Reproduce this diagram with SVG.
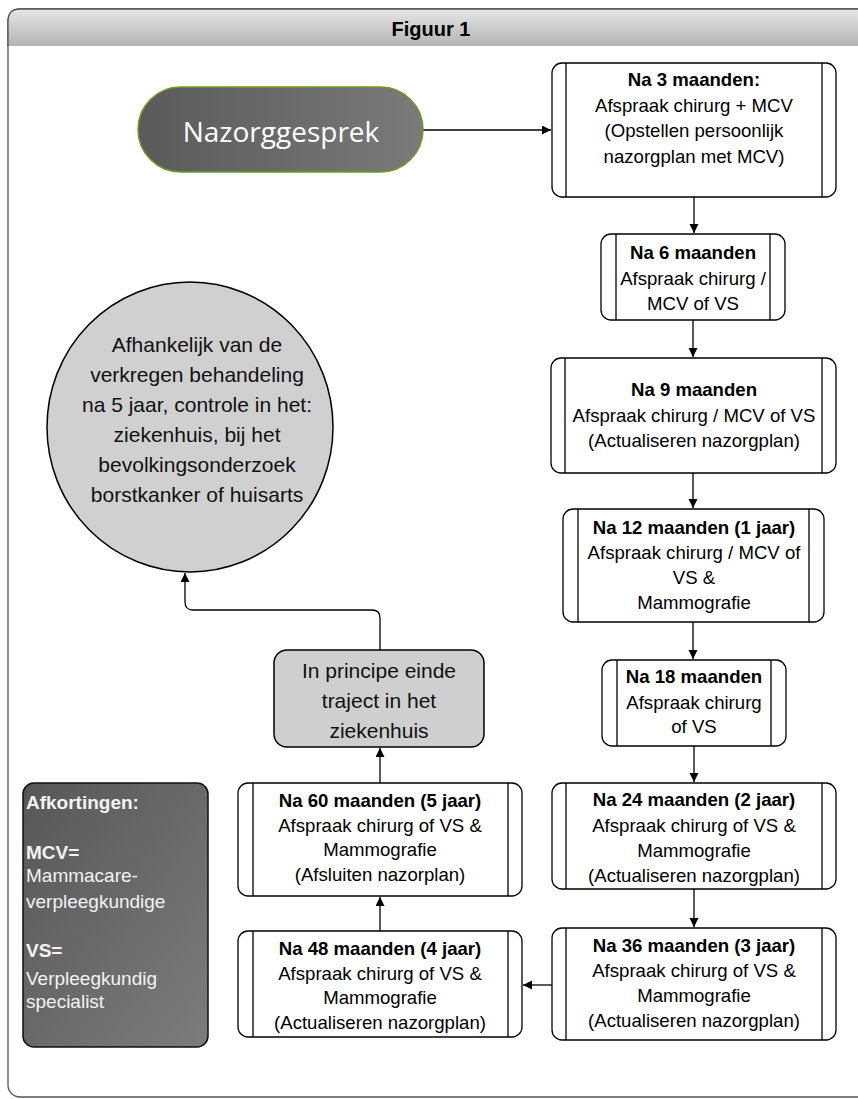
<svg xmlns="http://www.w3.org/2000/svg" width="858" height="1099" viewBox="0 0 858 1099">
<defs>
<linearGradient id="hdr" x1="0" y1="0" x2="0" y2="1"><stop offset="0" stop-color="#e6e6e6"/><stop offset="1" stop-color="#b4b4b4"/></linearGradient>
<linearGradient id="dark" x1="0" y1="0" x2="1" y2="1"><stop offset="0" stop-color="#575757"/><stop offset="1" stop-color="#7c7c7c"/></linearGradient>
<linearGradient id="pill" x1="0" y1="0" x2="1" y2="0"><stop offset="0" stop-color="#5a5a5a"/><stop offset="1" stop-color="#7a7a7a"/></linearGradient>
<marker id="ah" markerUnits="userSpaceOnUse" markerWidth="10" markerHeight="10" refX="9" refY="4.5" orient="auto"><path d="M0,0 L9,4.5 L0,9 z" fill="#000"/></marker>
<style>
.box{fill:#fff;stroke:#000;stroke-width:1.3}
.il{stroke:#000;stroke-width:1.3}
.t{font-family:"Liberation Sans",Arial,sans-serif;font-size:18.6px;text-anchor:middle;fill:#000}
.b{font-weight:bold}
.g{font-family:"Liberation Sans",Arial,sans-serif;font-size:21px;text-anchor:middle;fill:#111}
.lg{font-family:"Liberation Sans",Arial,sans-serif;font-size:19px;fill:#f2f2f2}
.c{fill:none;stroke:#000;stroke-width:1.3}
</style>
</defs>
<g id="frame">
<rect x="8" y="9" width="870" height="1088" rx="12" fill="#fff" stroke="#555" stroke-width="1.3"/>
<path d="M8,46 L8,21 Q8,9 20,9 L858,9 L858,46 Z" fill="url(#hdr)"/>
<path d="M8,46 L8,21 Q8,9 20,9 L858,9" fill="none" stroke="#555" stroke-width="1.3"/>
<text x="431" y="36" font-family="Liberation Sans,Arial,sans-serif" font-size="20" font-weight="bold" text-anchor="middle" fill="#000">Figuur 1</text>
</g>
<g id="connectors">
<line class="c" x1="423" y1="130" x2="551" y2="130" marker-end="url(#ah)"/>
<line class="c" x1="694" y1="197" x2="694" y2="233" marker-end="url(#ah)"/>
<line class="c" x1="693" y1="320" x2="693" y2="357" marker-end="url(#ah)"/>
<line class="c" x1="693" y1="473" x2="693" y2="508" marker-end="url(#ah)"/>
<line class="c" x1="693" y1="622" x2="693" y2="659" marker-end="url(#ah)"/>
<line class="c" x1="694" y1="746" x2="694" y2="782" marker-end="url(#ah)"/>
<line class="c" x1="694" y1="889" x2="694" y2="927" marker-end="url(#ah)"/>
<line class="c" x1="552" y1="985" x2="523" y2="985" marker-end="url(#ah)"/>
<line class="c" x1="380" y1="931" x2="380" y2="897" marker-end="url(#ah)"/>
<line class="c" x1="380" y1="783" x2="380" y2="748" marker-end="url(#ah)"/>
<path class="c" d="M380,650 L380,618 Q380,610 372,610 L193,610 Q185,610 185,602 L185,573" marker-end="url(#ah)"/>
</g>
<g id="n-nazorggesprek">
<rect x="138" y="87" width="285" height="85" rx="42.5" fill="url(#pill)" stroke="#6e9a22" stroke-width="1.5"/>
<text x="281" y="142" font-family="Open Sans,Noto Sans,sans-serif" font-size="28" text-anchor="middle" fill="#fff">Nazorggesprek</text>
</g>
<g id="n-3m">
<rect class="box" x="552" y="63" width="284" height="134" rx="10"/>
<line class="il" x1="566" y1="63" x2="566" y2="197"/><line class="il" x1="822" y1="63" x2="822" y2="197"/>
<text class="t b" x="694" y="86">Na 3 maanden:</text>
<text class="t" x="694" y="112">Afspraak chirurg + MCV</text>
<text class="t" x="694" y="137">(Opstellen persoonlijk</text>
<text class="t" x="694" y="163">nazorgplan met MCV)</text>
</g>
<g id="n-6m">
<rect class="box" x="601" y="234" width="184" height="86" rx="10"/>
<line class="il" x1="616" y1="234" x2="616" y2="320"/><line class="il" x1="770" y1="234" x2="770" y2="320"/>
<text class="t b" x="693" y="259">Na 6 maanden</text>
<text class="t" x="693" y="285">Afspraak chirurg /</text>
<text class="t" x="693" y="310">MCV of VS</text>
</g>
<g id="n-9m">
<rect class="box" x="551" y="358" width="285" height="115" rx="10"/>
<line class="il" x1="565" y1="358" x2="565" y2="473"/><line class="il" x1="822" y1="358" x2="822" y2="473"/>
<text class="t b" x="694" y="396">Na 9 maanden</text>
<text class="t" x="694" y="422">Afspraak chirurg / MCV of VS</text>
<text class="t" x="694" y="447">(Actualiseren nazorgplan)</text>
</g>
<g id="n-12m">
<rect class="box" x="563" y="509" width="261" height="113" rx="10"/>
<line class="il" x1="578" y1="509" x2="578" y2="622"/><line class="il" x1="809" y1="509" x2="809" y2="622"/>
<text class="t b" x="694" y="534">Na 12 maanden (1 jaar)</text>
<text class="t" x="694" y="559">Afspraak chirurg / MCV of</text>
<text class="t" x="694" y="584">VS &amp;</text>
<text class="t" x="694" y="609">Mammografie</text>
</g>
<g id="n-18m">
<rect class="box" x="602" y="660" width="184" height="86" rx="10"/>
<line class="il" x1="617" y1="660" x2="617" y2="746"/><line class="il" x1="771" y1="660" x2="771" y2="746"/>
<text class="t b" x="694" y="683">Na 18 maanden</text>
<text class="t" x="694" y="709">Afspraak chirurg</text>
<text class="t" x="694" y="733">of VS</text>
</g>
<g id="n-24m">
<rect class="box" x="552" y="783" width="284" height="106" rx="10"/>
<line class="il" x1="566" y1="783" x2="566" y2="889"/><line class="il" x1="822" y1="783" x2="822" y2="889"/>
<text class="t b" x="694" y="806">Na 24 maanden (2 jaar)</text>
<text class="t" x="694" y="832">Afspraak chirurg of VS &amp;</text>
<text class="t" x="694" y="857">Mammografie</text>
<text class="t" x="694" y="882">(Actualiseren nazorgplan)</text>
</g>
<g id="n-36m">
<rect class="box" x="552" y="928" width="284" height="112" rx="10"/>
<line class="il" x1="566" y1="928" x2="566" y2="1040"/><line class="il" x1="822" y1="928" x2="822" y2="1040"/>
<text class="t b" x="694" y="952">Na 36 maanden (3 jaar)</text>
<text class="t" x="694" y="977">Afspraak chirurg of VS &amp;</text>
<text class="t" x="694" y="1002">Mammografie</text>
<text class="t" x="694" y="1027">(Actualiseren nazorgplan)</text>
</g>
<g id="n-48m">
<rect class="box" x="238" y="931" width="284" height="106" rx="10"/>
<line class="il" x1="253" y1="931" x2="253" y2="1037"/><line class="il" x1="508" y1="931" x2="508" y2="1037"/>
<text class="t b" x="380" y="955">Na 48 maanden (4 jaar)</text>
<text class="t" x="380" y="980">Afspraak chirurg of VS &amp;</text>
<text class="t" x="380" y="1004">Mammografie</text>
<text class="t" x="380" y="1029">(Actualiseren nazorgplan)</text>
</g>
<g id="n-60m">
<rect class="box" x="238" y="783" width="284" height="113" rx="10"/>
<line class="il" x1="253" y1="783" x2="253" y2="896"/><line class="il" x1="508" y1="783" x2="508" y2="896"/>
<text class="t b" x="380" y="807">Na 60 maanden (5 jaar)</text>
<text class="t" x="380" y="832">Afspraak chirurg of VS &amp;</text>
<text class="t" x="380" y="856">Mammografie</text>
<text class="t" x="380" y="881">(Afsluiten nazorplan)</text>
</g>
<g id="n-einde">
<rect x="274" y="650" width="210" height="97" rx="13" fill="#cfcfcf" stroke="#000" stroke-width="1.5"/>
<text class="g" x="379" y="678">In principe einde</text>
<text class="g" x="379" y="708">traject in het</text>
<text class="g" x="379" y="738">ziekenhuis</text>
</g>
<g id="n-afhankelijk">
<ellipse cx="190" cy="427" rx="143" ry="145" fill="#d0d0d0" stroke="#000" stroke-width="1.5"/>
<text class="g" x="197" y="352">Afhankelijk van de</text>
<text class="g" x="197" y="382">verkregen behandeling</text>
<text class="g" x="197" y="412">na 5 jaar, controle in het:</text>
<text class="g" x="197" y="442">ziekenhuis, bij het</text>
<text class="g" x="197" y="472">bevolkingsonderzoek</text>
<text class="g" x="197" y="502">borstkanker of huisarts</text>
</g>
<g id="n-afkortingen">
<rect x="23" y="783" width="185" height="264" rx="11" fill="url(#dark)" stroke="#111" stroke-width="1.5"/>
<text class="lg b" x="26" y="809">Afkortingen:</text>
<text class="lg b" x="26" y="859">MCV=</text>
<text class="lg" x="26" y="882">Mammacare-</text>
<text class="lg" x="26" y="908">verpleegkundige</text>
<text class="lg b" x="26" y="957">VS=</text>
<text class="lg" x="26" y="985">Verpleegkundig</text>
<text class="lg" x="26" y="1008">specialist</text>
</g>
</svg>
